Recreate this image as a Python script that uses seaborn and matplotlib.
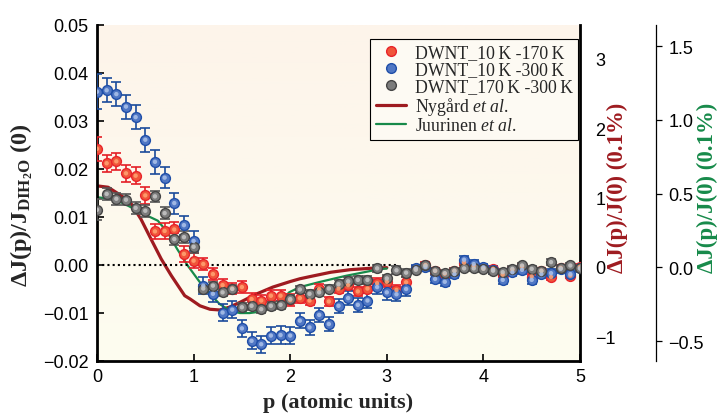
import numpy as np
import pandas as pd
import matplotlib
matplotlib.use("Agg")
import matplotlib.pyplot as plt
from matplotlib.lines import Line2D
import seaborn as sns

# ---------------- data ----------------
p = [round(0.1 * i, 1) for i in range(51)]

dj_10_170 = [0.0242, 0.0212, 0.0216, 0.0191, 0.0186, 0.0145, 0.0070, 0.0071, 0.0074, 0.0023,
             0.0009, 0.0002, -0.0019, -0.0042, -0.0049, -0.0046, -0.0071, -0.0074, -0.0064, -0.0064,
             -0.0073, -0.0069, -0.0074, -0.0050, -0.0076, -0.0049, -0.0042, -0.0055, -0.0049, -0.0038,
             -0.0035, -0.0052, -0.0036, -0.0008, 0.0000, -0.0012, -0.0018, -0.0012, 0.0005, -0.0002,
             -0.0007, -0.0008, -0.0020, -0.0010, -0.0003, -0.0024, -0.0012, -0.0025, -0.0006, -0.0022,
             -0.0004]
err_10_170 = [0.0025, 0.0018, 0.0018, 0.0018, 0.0018, 0.0018, 0.0016, 0.0016, 0.0016, 0.0016,
              0.0016, 0.0012, 0.0012, 0.0012, 0.0012, 0.0012, 0.0012, 0.0012, 0.0012, 0.0012,
              0.0012, 0.0010, 0.0010, 0.0010, 0.0010, 0.0010, 0.0010, 0.0010, 0.0010, 0.0010,
              0.0010, 0.0010, 0.0010, 0.0006, 0.0006, 0.0006, 0.0006, 0.0006, 0.0006, 0.0006,
              0.0006, 0.0006, 0.0006, 0.0006, 0.0006, 0.0006, 0.0006, 0.0006, 0.0006, 0.0006,
              0.0006]

dj_10_300 = [0.0361, 0.0364, 0.0356, 0.0330, 0.0308, 0.0261, 0.0215, 0.0182, 0.0129, 0.0083,
             0.0050, -0.0043, -0.0060, -0.0099, -0.0093, -0.0132, -0.0158, -0.0165, -0.0147, -0.0146,
             -0.0147, -0.0116, -0.0130, -0.0104, -0.0123, -0.0085, -0.0069, -0.0083, -0.0074, -0.0046,
             -0.0057, -0.0061, -0.0050, -0.0007, -0.0004, -0.0029, -0.0035, -0.0019, 0.0011, 0.0002,
             -0.0005, -0.0010, -0.0031, -0.0015, -0.0010, -0.0031, -0.0019, -0.0017, -0.0008, -0.0019,
             -0.0007]
err_10_300 = [0.0036, 0.0025, 0.0025, 0.0025, 0.0025, 0.0025, 0.0025, 0.0022, 0.0022, 0.0020,
              0.0020, 0.0018, 0.0018, 0.0018, 0.0018, 0.0018, 0.0018, 0.0018, 0.0018, 0.0018,
              0.0018, 0.0015, 0.0015, 0.0015, 0.0015, 0.0015, 0.0015, 0.0015, 0.0015, 0.0015,
              0.0015, 0.0015, 0.0015, 0.0008, 0.0008, 0.0008, 0.0008, 0.0008, 0.0008, 0.0008,
              0.0008, 0.0008, 0.0008, 0.0008, 0.0008, 0.0008, 0.0008, 0.0008, 0.0008, 0.0008,
              0.0008]

dj_170_300 = [0.0115, 0.0148, 0.0138, 0.0136, 0.0119, 0.0113, 0.0143, 0.0108, 0.0054, 0.0058,
              0.0038, -0.0049, -0.0043, -0.0057, -0.0050, -0.0088, -0.0085, -0.0092, -0.0085, -0.0083,
              -0.0071, -0.0051, -0.0060, -0.0057, -0.0049, -0.0040, -0.0034, -0.0031, -0.0031, -0.0007,
              -0.0028, -0.0011, -0.0016, -0.0010, -0.0001, -0.0012, -0.0017, -0.0012, -0.0007, -0.0007,
              -0.0008, -0.0012, -0.0015, -0.0008, -0.0001, -0.0008, -0.0012, 0.0006, -0.0007, -0.0001,
              -0.0007]
err_170_300 = [0.0022, 0.0012, 0.0012, 0.0012, 0.0012, 0.0012, 0.0012, 0.0012, 0.0012, 0.0012,
               0.0012, 0.0008, 0.0008, 0.0008, 0.0008, 0.0008, 0.0008, 0.0008, 0.0008, 0.0008,
               0.0008, 0.0008, 0.0008, 0.0008, 0.0008, 0.0008, 0.0008, 0.0008, 0.0008, 0.0008,
               0.0008, 0.0008, 0.0008, 0.0006, 0.0006, 0.0006, 0.0006, 0.0006, 0.0006, 0.0006,
               0.0006, 0.0006, 0.0006, 0.0006, 0.0006, 0.0006, 0.0006, 0.0006, 0.0006, 0.0006,
               0.0006]

# Nygard et al. (right axis, units of 0.1 %)
nyg_p = [0.0, 0.115, 0.25, 0.355, 0.455, 0.56, 0.665, 0.77, 0.908, 0.962, 1.066, 1.17, 1.27,
         1.37, 1.48, 1.65, 1.82, 2.0, 2.1, 2.2, 2.42, 2.62, 2.83, 3.0]
nyg_dj = [1.17, 1.15, 1.03, 0.91, 0.69, 0.40, 0.115, -0.126, -0.414, -0.46, -0.56, -0.61, -0.62,
          -0.58, -0.51, -0.39, -0.29, -0.21, -0.17, -0.14, -0.076, -0.039, -0.019, -0.01]

# Juurinen et al. (far right axis, units of 0.1 %)
juu_p = [0.0, 0.18, 0.32, 0.42, 0.52, 0.63, 0.73, 0.83, 0.94, 1.066, 1.17, 1.27, 1.377, 1.48,
         1.58, 1.68, 1.79, 1.89, 1.99, 2.1, 2.3, 2.58, 2.93, 3.0]
juu_dj = [0.475, 0.463, 0.418, 0.384, 0.350, 0.316, 0.237, 0.124, 0.011, -0.102, -0.181, -0.249,
          -0.294, -0.310, -0.310, -0.301, -0.271, -0.237, -0.169, -0.134, -0.100, -0.057, -0.012, -0.008]

labels = ["DWNT_10\u2009K -170\u2009K", "DWNT_10\u2009K -300\u2009K", "DWNT_170\u2009K -300\u2009K"]
curve_labels = ["Nyg\u00e5rd $\\mathit{et\\ al}$.", "Juurinen $\\mathit{et\\ al}$."]

left_ticks = [-0.02, -0.01, 0.00, 0.01, 0.02, 0.03, 0.04, 0.05]
red_ticks = [-1, 0, 1, 2, 3]
green_ticks = [-0.5, 0.0, 0.5, 1.0, 1.5]

# ---------------- style ----------------
sns.set_theme(style="ticks")
plt.rcParams["font.family"] = ["Liberation Sans", "DejaVu Sans"]
plt.rcParams["mathtext.fontset"] = "custom"
plt.rcParams["mathtext.rm"] = "Liberation Serif"
plt.rcParams["mathtext.it"] = "Liberation Serif:italic"
plt.rcParams["mathtext.bf"] = "Liberation Serif:bold"

W, H = 722, 414
fig = plt.figure(figsize=(W / 100, H / 100), dpi=100)
rect = [97 / W, 1 - 362 / H, (580 - 97) / W, (362 - 26) / H]

# background gradient
bg = fig.add_axes(rect, zorder=-5)
top = np.array([253, 244, 234]) / 255
bot = np.array([253, 253, 240]) / 255
t = np.linspace(0, 1, 256)[:, None]
grad = (top[None, :] * (1 - t) + bot[None, :] * t)[:, None, :]
bg.imshow(grad, aspect="auto", extent=[0, 1, 0, 1])
bg.axis("off")

ax = fig.add_axes(rect, zorder=3)
ax.patch.set_visible(False)
ax2 = ax.twinx()
ax3 = ax.twinx()
ax2.set_zorder(1)
ax3.set_zorder(1)
for a in (ax2, ax3):
    a.patch.set_visible(False)

# dotted zero line
ax.plot([0, 3.1], [0, 0], color="black", lw=1.5, ls=(0, (1, 1.5)), zorder=1)

series = [
    (dj_10_170, err_10_170, "#e8232a", "#f0553a", "#ffa070", "#e41e26"),
    (dj_10_300, err_10_300, "#1f4ea8", "#5077c4", "#a8bfe8", "#1a4b9b"),
    (dj_170_300, err_170_300, "#454545", "#7c7c7c", "#c4c4c4", "#555555"),
]
handles = []
for (vals, errs, edge, face, hi, ecol), lab in zip(series, labels):
    ax.errorbar(p, vals, yerr=errs, fmt="none", ecolor=ecol, elinewidth=1.2,
                capsize=3.4, capthick=1.2, zorder=4)
    df = pd.DataFrame({"p": p, "v": vals})
    sns.scatterplot(data=df, x="p", y="v", ax=ax, color=face, edgecolor=edge,
                    s=50, linewidth=1.0, zorder=5, legend=False)
    sns.scatterplot(data=df, x="p", y="v", ax=ax, color=hi, edgecolor="none",
                    s=10, linewidth=0, zorder=6, legend=False, alpha=0.9)
    handles.append(Line2D([], [], ls="none", marker="o", markersize=7, markerfacecolor=face,
                          markeredgecolor=edge, markeredgewidth=1.0, label=lab))

nyg_col = "#9e1b20"
juu_col = "#178a4a"
sns.lineplot(x=nyg_p, y=nyg_dj, ax=ax2, color=nyg_col, lw=2.3, sort=False)
sns.lineplot(x=juu_p, y=juu_dj, ax=ax3, color=juu_col, lw=1.6, sort=False)
handles.append(Line2D([], [], color=nyg_col, lw=2.3, label=curve_labels[0]))
handles.append(Line2D([], [], color=juu_col, lw=1.6, label=curve_labels[1]))

# ---------------- axes ----------------
ax.set_xlim(0, 5)
ax.set_ylim(-0.02, 0.05)
ax.set_xticks([0, 1, 2, 3, 4, 5])
ax.set_yticks(left_ticks)
ax.set_yticklabels([f"{v:.2f}".replace("-", "\u2212") for v in left_ticks])
ax.set_xlabel("")
ax.set_ylabel("")
ax2.set_ylim(-1.356, 3.49)
ax2.set_yticks(red_ticks)
ax2.set_yticklabels([str(v).replace("-", "\u2212") for v in red_ticks])
ax3.set_ylim(-0.635, 1.643)
ax3.set_yticks(green_ticks)
ax3.set_yticklabels([f"{v:.1f}".replace("-", "\u2212") for v in green_ticks])
for a in (ax2, ax3):
    a.set_ylabel("")
    a.set_xlabel("")

for s in ["top", "right"]:
    ax.spines[s].set_visible(False)
for s in ["left", "bottom"]:
    ax.spines[s].set_linewidth(2.0)
    ax.spines[s].set_color("black")
for s in ["top", "left", "bottom"]:
    ax2.spines[s].set_visible(False)
    ax3.spines[s].set_visible(False)
ax2.spines["right"].set_linewidth(2.0)
ax2.spines["right"].set_color("black")
ax3.spines["right"].set_position(("axes", (656 - 97) / (580 - 97)))
ax3.spines["right"].set_linewidth(0.9)
ax3.spines["right"].set_color("black")

tick_font = 13
ax.tick_params(axis="both", direction="in", length=5, width=1.2, labelsize=tick_font,
               colors="black", pad=6)
ax.tick_params(axis="x", pad=5)
ax2.tick_params(axis="y", direction="in", length=0, labelsize=tick_font, pad=11, colors="black")
ax3.tick_params(axis="y", direction="out", length=4, width=0.9, labelsize=tick_font, pad=5,
                colors="black")

# labels
lab_font = dict(family=["Liberation Serif", "DejaVu Serif"], fontweight="bold")
fig.text(22 / W, 1 - 205 / H, r"$\mathbf{\Delta J(p)/J_{DIH_2O}\ (0)}$", rotation=90,
         ha="center", va="center", fontsize=17.5, **lab_font)
fig.text(338 / W, 0.002, "p (atomic units)", ha="center", va="bottom", fontsize=16, **lab_font)
fig.text(617 / W, 1 - 188 / H, "\u0394J(p)/J(0) (0.1%)", rotation=90, ha="center", va="center",
         fontsize=16.5, color=nyg_col, **lab_font)
fig.text(707 / W, 1 - 188 / H, "\u0394J(p)/J(0) (0.1%)", rotation=90, ha="center", va="center",
         fontsize=16.5, color=juu_col, **lab_font)

leg = ax.legend(handles=handles, loc="upper right", bbox_to_anchor=((578 - 97) / 483, (362 - 40) / 336),
                borderaxespad=0, frameon=True, fancybox=False, framealpha=1, edgecolor="black",
                facecolor="#fdfaf3", prop={"family": ["Liberation Serif", "DejaVu Serif"], "size": 12.8},
                handlelength=1.7, labelspacing=0.0, borderpad=0.3, handletextpad=0.5)
leg.get_frame().set_linewidth(0.8)
leg.set_zorder(10)

fig.savefig("out.png", dpi=100)
